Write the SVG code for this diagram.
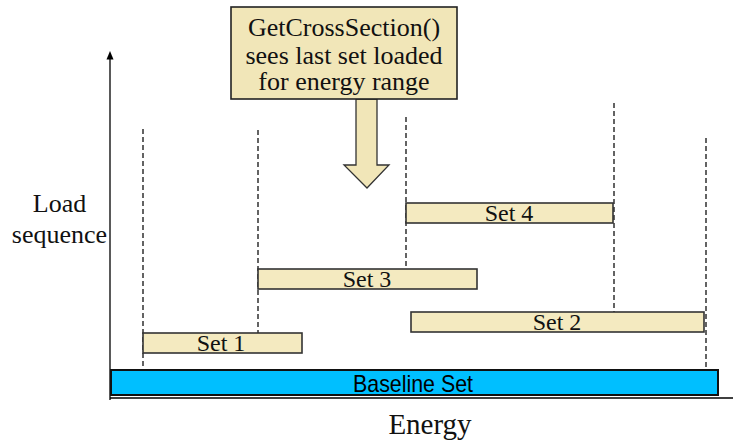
<svg xmlns="http://www.w3.org/2000/svg" width="733" height="446" viewBox="0 0 733 446">
  <defs>
    <style>
      .serif { font-family: "Liberation Serif", "Times New Roman", serif; fill: #111; }
      .sans { font-family: "Liberation Sans", Arial, sans-serif; fill: #000; }
      .set { fill: #F4EAC0; stroke: #333; stroke-width: 1.6; }
      .dash { stroke: #222; stroke-width: 1.4; stroke-dasharray: 5 3; fill: none; }
      .axis { stroke: #000; stroke-width: 1.3; fill: none; }
    </style>
  </defs>
  <rect x="0" y="0" width="733" height="446" fill="#fff"/>

  <g id="connectors">
    <line class="dash" x1="143" y1="129" x2="143" y2="370"/>
    <line class="dash" x1="258" y1="130" x2="258" y2="333"/>
    <line class="dash" x1="406" y1="117" x2="406" y2="269"/>
    <line class="dash" x1="614" y1="103" x2="614" y2="312"/>
    <line class="dash" x1="706" y1="138" x2="706" y2="370"/>
    <path d="M356,99 L377,99 L377,165 L389,165 L367,188 L344,165 L356,165 Z" fill="#F1E6B8" stroke="#333" stroke-width="1.3"/>
  </g>

  <g id="axes">
    <line class="axis" x1="110" y1="400" x2="110" y2="58"/>
    <polygon points="110,51 106.5,59.5 113.5,59.5" fill="#000"/>
    <line class="axis" x1="110" y1="398" x2="733" y2="398"/>
    <text class="serif" x="59.5" y="212" font-size="26" text-anchor="middle">Load</text>
    <text class="serif" x="59.5" y="243" font-size="26" text-anchor="middle">sequence</text>
    <text class="serif" x="430" y="434" font-size="29" text-anchor="middle">Energy</text>
  </g>

  <g id="callout">
    <rect x="231" y="7" width="226" height="92" fill="#F1E6B8" stroke="#222" stroke-width="1.6"/>
    <text class="serif" x="344" y="36" font-size="26" text-anchor="middle">GetCrossSection()</text>
    <text class="serif" x="344" y="63.5" font-size="26" text-anchor="middle">sees last set loaded</text>
    <text class="serif" x="344" y="90" font-size="26" text-anchor="middle">for energy range</text>
  </g>

  <g id="baseline">
    <rect x="111" y="370" width="607" height="25" fill="#00BFFF" stroke="#111" stroke-width="2"/>
    <text class="sans" x="413" y="392" font-size="24" text-anchor="middle" textLength="120" lengthAdjust="spacingAndGlyphs">Baseline Set</text>
  </g>

  <g id="set1">
    <rect class="set" x="143" y="333" width="159" height="20"/>
    <text class="serif" x="221" y="351" font-size="24" text-anchor="middle">Set 1</text>
  </g>

  <g id="set3">
    <rect class="set" x="258" y="269" width="219" height="20"/>
    <text class="serif" x="367" y="287" font-size="24" text-anchor="middle">Set 3</text>
  </g>

  <g id="set2">
    <rect class="set" x="411" y="312" width="293" height="20"/>
    <text class="serif" x="557" y="330" font-size="24" text-anchor="middle">Set 2</text>
  </g>

  <g id="set4">
    <rect class="set" x="406" y="203" width="207" height="20"/>
    <text class="serif" x="509" y="221" font-size="24" text-anchor="middle">Set 4</text>
  </g>
</svg>
